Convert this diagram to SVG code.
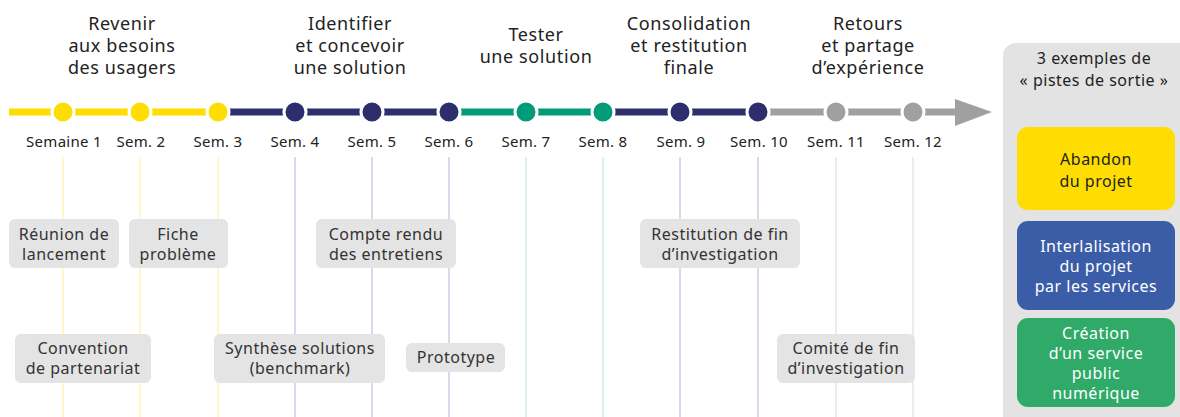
<svg xmlns="http://www.w3.org/2000/svg" width="1180" height="417" viewBox="0 0 1180 417">
<style>
text{font-family:"Noto Sans","DejaVu Sans",sans-serif;fill:#222}
.ph{font-size:18px;text-anchor:middle;letter-spacing:0.6px}
.wk{font-size:15px;text-anchor:middle;letter-spacing:0.3px}
.bx{fill:#E4E4E4}
.bt{font-size:16px;text-anchor:middle;fill:#333;letter-spacing:0.5px}
.vy{stroke:#FFF4B8;stroke-width:1.5}
.vn{stroke:#CECCE6;stroke-width:1.5}
.vg{stroke:#D3EDE6;stroke-width:1.5}
.va{stroke:#E6E6E6;stroke-width:1.5}
.dy{fill:#FFDD00;stroke:#fff;stroke-width:3}
.dn{fill:#2E2D6E;stroke:#fff;stroke-width:3}
.dg{fill:#009B78;stroke:#fff;stroke-width:3}
.da{fill:#A0A0A0;stroke:#fff;stroke-width:3}
.wt{fill:#fff;font-size:16px;text-anchor:middle;letter-spacing:0.5px}
</style>
<rect width="1180" height="417" fill="#fff"/>
<g id="gridlines">
<line class="vy" x1="63" y1="157" x2="63" y2="417"/>
<line class="vy" x1="140" y1="157" x2="140" y2="417"/>
<line class="vy" x1="218" y1="157" x2="218" y2="417"/>
<line class="vn" x1="295" y1="157" x2="295" y2="417"/>
<line class="vn" x1="372" y1="157" x2="372" y2="417"/>
<line class="vn" x1="449" y1="157" x2="449" y2="417"/>
<line class="vg" x1="526" y1="157" x2="526" y2="417"/>
<line class="vg" x1="603" y1="157" x2="603" y2="417"/>
<line class="vn" x1="680" y1="157" x2="680" y2="417"/>
<line class="vn" x1="758" y1="157" x2="758" y2="417"/>
<line class="va" x1="836" y1="157" x2="836" y2="417"/>
<line class="va" x1="913" y1="157" x2="913" y2="417"/>
</g>
<g id="phases">
<text class="ph" x="122" y="30">Revenir</text>
<text class="ph" x="122" y="52">aux besoins</text>
<text class="ph" x="122" y="74">des usagers</text>
<text class="ph" x="350" y="30">Identifier</text>
<text class="ph" x="350" y="52">et concevoir</text>
<text class="ph" x="350" y="74">une solution</text>
<text class="ph" x="536" y="41">Tester</text>
<text class="ph" x="536" y="63">une solution</text>
<text class="ph" x="689" y="30">Consolidation</text>
<text class="ph" x="689" y="52">et restitution</text>
<text class="ph" x="689" y="74">finale</text>
<text class="ph" x="868" y="30">Retours</text>
<text class="ph" x="868" y="52">et partage</text>
<text class="ph" x="868" y="74">d’expérience</text>
</g>
<g id="timeline">
<line x1="9" y1="112" x2="224" y2="112" stroke="#FFDD00" stroke-width="7"/>
<line x1="224" y1="112" x2="455" y2="112" stroke="#2E2D6E" stroke-width="7"/>
<line x1="455" y1="112" x2="610" y2="112" stroke="#009B78" stroke-width="7"/>
<line x1="610" y1="112" x2="764" y2="112" stroke="#2E2D6E" stroke-width="7"/>
<line x1="764" y1="112" x2="958" y2="112" stroke="#A0A0A0" stroke-width="7"/>
<polygon points="955,99 992,112 955,126" fill="#A0A0A0"/>
<circle class="dy" cx="63" cy="112" r="11"/>
<circle class="dy" cx="140" cy="112" r="11"/>
<circle class="dy" cx="218" cy="112" r="11"/>
<circle class="dn" cx="295" cy="112" r="11"/>
<circle class="dn" cx="372" cy="112" r="11"/>
<circle class="dn" cx="449" cy="112" r="11"/>
<circle class="dg" cx="526" cy="112" r="11"/>
<circle class="dg" cx="603" cy="112" r="11"/>
<circle class="dn" cx="680" cy="112" r="11"/>
<circle class="dn" cx="758" cy="112" r="11"/>
<circle class="da" cx="836" cy="112" r="11"/>
<circle class="da" cx="913" cy="112" r="11"/>
</g>
<g id="weeks">
<text class="wk" x="64" y="147">Semaine 1</text>
<text class="wk" x="141" y="147">Sem. 2</text>
<text class="wk" x="218" y="147">Sem. 3</text>
<text class="wk" x="295" y="147">Sem. 4</text>
<text class="wk" x="372" y="147">Sem. 5</text>
<text class="wk" x="449" y="147">Sem. 6</text>
<text class="wk" x="526" y="147">Sem. 7</text>
<text class="wk" x="603" y="147">Sem. 8</text>
<text class="wk" x="681" y="147">Sem. 9</text>
<text class="wk" x="759" y="147">Sem. 10</text>
<text class="wk" x="836" y="147">Sem. 11</text>
<text class="wk" x="913" y="147">Sem. 12</text>
</g>
<g id="n-reunion"><rect class="bx" x="9" y="219" width="110" height="49" rx="6"/><text class="bt" x="64" y="240">Réunion de</text><text class="bt" x="64" y="260">lancement</text></g>
<g id="n-fiche"><rect class="bx" x="129" y="219" width="99" height="49" rx="6"/><text class="bt" x="178" y="240">Fiche</text><text class="bt" x="178" y="260">problème</text></g>
<g id="n-compte"><rect class="bx" x="316" y="219" width="140" height="49" rx="6"/><text class="bt" x="386" y="240">Compte rendu</text><text class="bt" x="386" y="260">des entretiens</text></g>
<g id="n-restitution"><rect class="bx" x="640" y="219" width="160" height="49" rx="6"/><text class="bt" x="720" y="240">Restitution de fin</text><text class="bt" x="720" y="260">d’investigation</text></g>
<g id="n-convention"><rect class="bx" x="15" y="334" width="136" height="49" rx="6"/><text class="bt" x="83" y="354">Convention</text><text class="bt" x="83" y="374">de partenariat</text></g>
<g id="n-synthese"><rect class="bx" x="214" y="334" width="171" height="49" rx="6"/><text class="bt" x="300" y="354">Synthèse solutions</text><text class="bt" x="300" y="374">(benchmark)</text></g>
<g id="n-prototype"><rect class="bx" x="406" y="343" width="99" height="29" rx="6"/><text class="bt" x="456" y="363">Prototype</text></g>
<g id="n-comite"><rect class="bx" x="777" y="334" width="138" height="49" rx="6"/><text class="bt" x="846" y="354">Comité de fin</text><text class="bt" x="846" y="374">d’investigation</text></g>
<g id="panel">
<rect x="1003" y="43" width="190" height="390" rx="13" fill="#E3E3E3"/>
<text class="bt" x="1094" y="64" style="fill:#222">3 exemples de</text>
<text class="bt" x="1094" y="86" style="fill:#222">« pistes de sortie »</text>
</g>
<g id="n-abandon"><rect x="1017" y="127" width="158" height="83" rx="11" fill="#FFDD00"/><text class="bt" x="1096" y="165" style="fill:#222">Abandon</text><text class="bt" x="1096" y="187" style="fill:#222">du projet</text></g>
<g id="n-interlalisation"><rect x="1017" y="221" width="158" height="89" rx="11" fill="#3B5DA8"/><text class="wt" x="1096" y="252">Interlalisation</text><text class="wt" x="1096" y="272">du projet</text><text class="wt" x="1096" y="292">par les services</text></g>
<g id="n-creation"><rect x="1017" y="318" width="158" height="89" rx="11" fill="#2FAA68"/><text class="wt" x="1096" y="339">Création</text><text class="wt" x="1096" y="359">d’un service</text><text class="wt" x="1096" y="379">public</text><text class="wt" x="1096" y="399">numérique</text></g>
</svg>
